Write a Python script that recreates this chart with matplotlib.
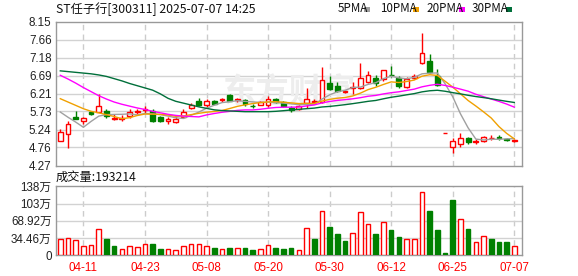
import matplotlib
matplotlib.use('Agg')
import matplotlib.pyplot as plt
from matplotlib.patches import Rectangle
import numpy as np
import pandas as pd

plt.rcParams['font.family'] = ['Liberation Sans', 'Noto Sans CJK SC', 'DejaVu Sans']

W, H = 578, 276

title = 'ST任子行[300311] 2025-07-07 14:25'
vol_title = '成交量:193214'
date_ticks = [3, 11, 19, 27, 35, 43, 51, 59]
date_labels = ['04-11', '04-23', '05-08', '05-20', '05-30', '06-12', '06-25', '07-07']
price_ticks = [4.27, 4.76, 5.24, 5.73, 6.21, 6.69, 7.18, 7.66, 8.15]
vol_ticks = [0, 34.46, 68.92, 103.38, 137.84]
vol_tick_labels = ['0', '34.46万', '68.92万', '103万', '138万']

opens = [4.93, 5.12, 5.59, 5.46, 5.70, 5.71, 5.73, 5.52, 5.53, 5.60,
         5.72, 5.76, 5.74, 5.57, 5.48, 5.43, 5.58, 5.81, 6.02, 5.89,
         6.02, 6.03, 6.18, 6.03, 6.04, 5.88, 5.90, 5.89, 6.06, 5.98,
         5.82, 5.78, 5.95, 5.97, 5.99, 6.49, 6.40, 6.24, 6.36, 6.37,
         6.51, 6.64, 6.59, 6.72, 6.62, 6.39, 6.64, 7.04, 7.08, 6.68,
         5.15, 4.77, 4.84, 5.02, 4.90, 4.94, 5.00, 5.03, 4.99, 4.93]
highs = [5.26, 5.46, 5.73, 5.59, 5.74, 6.20, 5.80, 5.65, 5.63, 5.78,
         5.80, 5.88, 5.80, 5.60, 5.57, 5.60, 5.80, 5.96, 6.10, 6.07,
         6.04, 6.10, 6.20, 6.10, 6.06, 5.93, 6.00, 6.13, 6.09, 6.01,
         5.86, 5.90, 6.36, 6.05, 6.92, 6.67, 6.52, 6.31, 6.51, 7.03,
         6.81, 6.72, 6.84, 6.94, 6.69, 6.65, 6.73, 7.84, 7.28, 6.88,
         5.15, 5.01, 5.15, 5.04, 4.99, 5.06, 5.10, 5.09, 5.00, 4.99]
lows = [4.92, 4.75, 5.51, 5.39, 5.63, 5.70, 5.55, 5.50, 5.48, 5.55,
        5.66, 5.69, 5.45, 5.43, 5.40, 5.42, 5.56, 5.78, 5.86, 5.85,
        5.92, 5.98, 6.00, 5.99, 5.88, 5.83, 5.89, 5.84, 5.96, 5.84,
        5.72, 5.76, 5.83, 5.93, 5.95, 6.30, 6.25, 6.22, 6.20, 6.34,
        6.48, 6.40, 6.55, 6.65, 6.36, 6.35, 6.60, 7.01, 6.76, 6.41,
        5.15, 4.61, 4.77, 4.86, 4.86, 4.91, 4.97, 4.97, 4.93, 4.90]
closes = [5.17, 5.39, 5.52, 5.54, 5.67, 5.88, 5.60, 5.54, 5.56, 5.72,
          5.75, 5.79, 5.48, 5.47, 5.51, 5.53, 5.70, 5.90, 5.91, 6.02,
          5.94, 6.05, 6.02, 6.05, 5.93, 5.87, 5.97, 6.07, 5.98, 5.87,
          5.76, 5.87, 6.07, 6.01, 6.58, 6.34, 6.28, 6.27, 6.39, 6.63,
          6.71, 6.50, 6.83, 6.70, 6.41, 6.60, 6.68, 7.31, 6.79, 6.44,
          5.15, 4.92, 5.02, 4.89, 4.93, 5.03, 5.02, 5.01, 4.95, 4.96]
# volume in 万手
volumes = [32, 35, 30, 18, 20, 52, 32, 18, 13, 19,
           17, 22, 22, 13, 13, 11, 19, 23, 23, 19,
           14, 13, 15, 15, 14, 10, 12, 21, 14, 12,
           14, 11, 55, 32, 89, 56, 42, 28, 44, 87,
           62, 42, 67, 50, 36, 33, 33, 127, 88, 50,
           4, 110, 73, 52, 27, 39, 32, 27, 27, 19.32]

# moving average values before the window is full
ma5_head = [5.71, 5.57, 5.44, 5.30]
ma10_head = [6.07, 5.98, 5.89, 5.80, 5.73, 5.69, 5.64, 5.59, 5.53]
ma20_head = [6.70, 6.60, 6.49, 6.37, 6.26, 6.15, 6.06, 5.98, 5.92, 5.87,
             5.82, 5.78, 5.73, 5.69, 5.65, 5.62, 5.60, 5.59, 5.58]
ma30_head = [6.82, 6.80, 6.78, 6.76, 6.74, 6.71, 6.67, 6.61, 6.55, 6.48,
             6.42, 6.36, 6.30, 6.20, 6.08, 6.00, 5.95, 5.90, 5.85, 5.81,
             5.77, 5.75, 5.74, 5.73, 5.72, 5.72, 5.72, 5.72, 5.73]

RED = '#ff0000'
GREEN = '#008000'
ma_specs = [(5, ma5_head, '#a0a0a0', '5PMA'),
            (10, ma10_head, '#f0a000', '10PMA'),
            (20, ma20_head, '#ff00ff', '20PMA'),
            (30, ma30_head, '#006f3a', '30PMA')]


def fx(x):
    return x / W


def fy(y):
    return 1 - y / H


def moving_avg(n, head):
    s = pd.Series(closes).rolling(n).mean().to_numpy()
    s[:n - 1] = head
    return s


def style_axes(ax):
    for sp in ax.spines.values():
        sp.set_color('#999999')
        sp.set_linewidth(1)
    ax.tick_params(length=0, labelsize=8.4, colors='#222222')
    for t in date_ticks:
        ax.axvline(t, color='#cccccc', lw=1, ls=(0, (4, 3)), zorder=0)


fig = plt.figure(figsize=(W / 100, H / 100), dpi=100)
ax = fig.add_axes([fx(55.7), fy(165.5), fx(522.3 - 55.7), (165.5 - 21.5) / H])
axv = fig.add_axes([fx(55.7), fy(255.3), fx(522.3 - 55.7), (255.3 - 186.3) / H])

n = len(closes)
x = np.arange(n)
xlim = (-0.6, 60.04)

# price panel
style_axes(ax)
for p in price_ticks[1:-1]:
    ax.axhline(p, color='#d2d2d2', lw=1, zorder=0)
bw = 0.62
for i in range(n):
    o, h, l, c = opens[i], highs[i], lows[i], closes[i]
    up = c >= o
    col = RED if up else GREEN
    ax.vlines(i, l, h, color=col, lw=1, zorder=2)
    ax.add_patch(Rectangle((i - bw / 2, min(o, c)), bw, max(abs(c - o), 0.004),
                           facecolor='white' if up else GREEN, edgecolor=col,
                           lw=1, zorder=3))
for period, head, col, lab in ma_specs:
    ax.plot(x, moving_avg(period, head), color=col, lw=1, zorder=4)
ax.set_xlim(*xlim)
ax.set_ylim(price_ticks[0], price_ticks[-1])
ax.set_yticks(price_ticks)
ax.set_yticklabels(['%.2f' % p for p in price_ticks])
ax.tick_params(axis='y', pad=3)
ax.set_xticks([])
ax.text(0.5, 0.5, '东方财富', transform=ax.transAxes, fontsize=24,
        color='#ededed', ha='center', va='center', zorder=1,
        family=['Noto Sans CJK SC', 'DejaVu Sans'], fontweight='bold')

# volume panel
style_axes(axv)
for v in vol_ticks[1:-1]:
    axv.axhline(v, color='#d2d2d2', lw=1, zorder=0)
vw = 0.6
for i in range(n):
    up = closes[i] >= (closes[i - 1] if i > 0 else opens[i])
    col = RED if up else GREEN
    axv.bar(i, volumes[i], width=vw, facecolor='white' if up else GREEN,
            edgecolor=col, lw=1, zorder=3)
axv.set_xlim(*xlim)
axv.set_ylim(0, vol_ticks[-1])
axv.set_yticks(vol_ticks)
axv.set_yticklabels(vol_tick_labels)
axv.tick_params(axis='y', pad=3)
axv.set_xticks(date_ticks)
axv.set_xticklabels(date_labels)
axv.tick_params(axis='x', pad=5, colors=RED, labelsize=8.4)

# header texts
fig.text(fx(56), fy(9), title, fontsize=8.8, va='center', ha='left',
         color='#111111', family=['Noto Sans CJK SC', 'DejaVu Sans'])
fig.text(fx(56), fy(177), vol_title, fontsize=8.8, va='center', ha='left',
         color='#111111', family=['Noto Sans CJK SC', 'DejaVu Sans'])
legend_x = [(338, 364), (380, 413), (426, 459), (472, 506)]
for (tx, sx), (period, head, col, lab) in zip(legend_x, ma_specs):
    fig.text(fx(tx), fy(9), lab, fontsize=8.4, va='center', ha='left',
             color='#111111', family=['Noto Sans CJK SC', 'DejaVu Sans'])
    fig.add_artist(Rectangle((fx(sx), fy(11.5)), 6 / W, 5 / H,
                             transform=fig.transFigure, facecolor=col,
                             edgecolor='none'))

fig.savefig('out.png', dpi=100)
